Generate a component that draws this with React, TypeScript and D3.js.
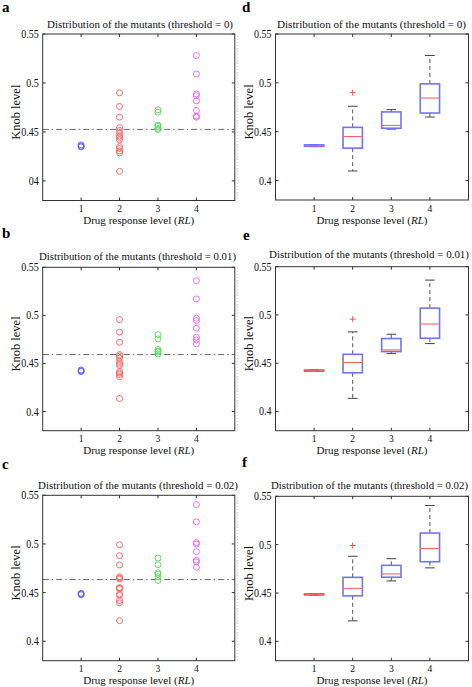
import React from "react";
import * as d3 from "d3";

// ---------- data ----------
const categories = [1, 2, 3, 4];
const xTickLabels = ["1", "2", "3", "4"];
const yTicks = [0.4, 0.45, 0.5, 0.55];
const yTickLabelsTop = ["04", "0.45", "0.5", "0.55"];
const yTickLabels = ["0.4", "0.45", "0.5", "0.55"];
const thresholds = ["0", "0.01", "0.02"];
const thresholdLevels = [0.4526, 0.4592, 0.4634];
const seriesColors = ["#5f5fff", "#ff5f5f", "#55dd55", "#f060f0"];

// threshold = 0
const t0RL1 = [0.4347, 0.4355, 0.4368];
const t0RL2 = [0.4899, 0.476, 0.4651, 0.4544, 0.4516, 0.4486, 0.4458, 0.4442, 0.442, 0.4351, 0.4331, 0.4306, 0.4286, 0.4097];
const t0RL3 = [0.4726, 0.4702, 0.457, 0.4558, 0.4535, 0.4526];
const t0RL4 = [0.528, 0.5091, 0.4888, 0.4871, 0.4817, 0.4719, 0.4662, 0.465];
// threshold = 0.01
const t1RL1 = [0.4415, 0.4422, 0.4432];
const t1RL2 = [0.4956, 0.4824, 0.472, 0.4592, 0.4578, 0.4555, 0.4519, 0.4495, 0.4478, 0.4415, 0.44, 0.4385, 0.4362, 0.4135];
const t1RL3 = [0.48, 0.4755, 0.4645, 0.463, 0.462, 0.4599];
const t1RL4 = [0.5361, 0.5171, 0.497, 0.4946, 0.4866, 0.4772, 0.4745, 0.4703];
// threshold = 0.02
const t2RL1 = [0.4478, 0.4485, 0.4493];
const t2RL2 = [0.4992, 0.488, 0.4784, 0.4662, 0.465, 0.464, 0.4552, 0.4545, 0.4539, 0.4484, 0.4471, 0.442, 0.4395, 0.4212];
const t2RL3 = [0.4855, 0.4786, 0.4704, 0.469, 0.4663, 0.4625];
const t2RL4 = [0.5405, 0.5227, 0.5013, 0.4999, 0.4921, 0.4832, 0.4815, 0.476];

const dataByThreshold = [
  [t0RL1, t0RL2, t0RL3, t0RL4],
  [t1RL1, t1RL2, t1RL3, t1RL4],
  [t2RL1, t2RL2, t2RL3, t2RL4],
];

// ---------- layout ----------
const layout = [
  { letter: "a", kind: "scatter", t: 0, x0: 42.7, x1: 234.8, y0: 34, y1: 200.5, titleX: 47, titleW: 186, titleY: 28, lx: 2, ly: 12 },
  { letter: "d", kind: "box", t: 0, x0: 275.5, x1: 468.5, y0: 34, y1: 200, titleX: 277, titleW: 189, titleY: 28, lx: 242, ly: 12 },
  { letter: "b", kind: "scatter", t: 1, x0: 42.7, x1: 234.8, y0: 267.3, y1: 430.7, titleX: 39, titleW: 197, titleY: 260, lx: 2, ly: 238 },
  { letter: "e", kind: "box", t: 1, x0: 275.5, x1: 468.5, y0: 266.7, y1: 430.7, titleX: 269, titleW: 200, titleY: 258, lx: 243, ly: 240 },
  { letter: "c", kind: "scatter", t: 2, x0: 42.7, x1: 234.8, y0: 495.3, y1: 660.7, titleX: 38, titleW: 200, titleY: 489, lx: 2, ly: 469 },
  { letter: "f", kind: "box", t: 2, x0: 275.5, x1: 468.5, y0: 496.3, y1: 660.7, titleX: 271, titleW: 197, titleY: 489, lx: 242, ly: 467 },
];

const FONT = "'Liberation Serif', 'Times New Roman', serif";
const AXIS = "#333";

function mq(sorted: number[], p: number) {
  const n = sorted.length;
  const pos = p * n + 0.5;
  if (pos <= 1) return sorted[0];
  if (pos >= n) return sorted[n - 1];
  const i = Math.floor(pos);
  const f = pos - i;
  return sorted[i - 1] + f * (sorted[i] - sorted[i - 1]);
}

function boxStats(values: number[]) {
  const s = values.slice().sort((a, b) => a - b);
  const q1 = mq(s, 0.25);
  const med = mq(s, 0.5);
  const q3 = mq(s, 0.75);
  const iqr = q3 - q1;
  const hiF = q3 + 1.5 * iqr;
  const loF = q1 - 1.5 * iqr;
  const inside = s.filter((v) => v >= loF && v <= hiF);
  return {
    q1, med, q3,
    lo: d3.min(inside) as number,
    hi: d3.max(inside) as number,
    out: s.filter((v) => v < loF || v > hiF),
  };
}

function Panel({ p }: { p: any }) {
  const x = d3.scaleLinear().domain([0, 5]).range([p.x0, p.x1]);
  const y = d3.scaleLinear().domain([0.38, 0.55]).range([p.y1, p.y0]);
  const series = dataByThreshold[p.t];
  const labels = p.letter === "a" ? yTickLabelsTop : yTickLabels;
  const tk = 3;
  const cx = (p.x0 + p.x1) / 2;
  const cy = (p.y0 + p.y1) / 2;
  const ylabX = p.kind === "scatter" ? 19.5 : 252.5;
  return (
    <g>
      <text x={p.lx} y={p.ly} fontFamily={FONT} fontWeight="bold" fontSize={15} fill="#000">{p.letter}</text>
      <text x={p.titleX} y={p.titleY} fontFamily={FONT} fontSize={11} textLength={p.titleW} lengthAdjust="spacingAndGlyphs" fill="#111">
        {`Distribution of the mutants (threshold = ${thresholds[p.t]})`}
      </text>
      {p.kind === "scatter" && (
        <g>
          <line x1={p.x0} x2={p.x1} y1={y(thresholdLevels[p.t])} y2={y(thresholdLevels[p.t])}
            stroke="#6a6a6a" strokeWidth={1} strokeDasharray="6,3,1.5,3" />
          {series.map((vals, i) =>
            vals.map((v, j) => (
              <circle key={`${i}-${j}`} cx={x(categories[i])} cy={y(v)} r={3} fill="none"
                stroke={seriesColors[i]} strokeWidth={0.9} />
            ))
          )}
        </g>
      )}
      {p.kind === "box" && (
        <g>
          {series.map((vals, i) => {
            const b = boxStats(vals);
            const c = x(categories[i]);
            const hw = x(0.25) - x(0);
            const cw = x(0.125) - x(0);
            return (
              <g key={i}>
                <line x1={c} x2={c} y1={y(b.q3)} y2={y(b.hi)} stroke="#555" strokeWidth={1} strokeDasharray="4,3" />
                <line x1={c} x2={c} y1={y(b.q1)} y2={y(b.lo)} stroke="#555" strokeWidth={1} strokeDasharray="4,3" />
                <line x1={c - cw} x2={c + cw} y1={y(b.hi)} y2={y(b.hi)} stroke="#444" strokeWidth={1} />
                <line x1={c - cw} x2={c + cw} y1={y(b.lo)} y2={y(b.lo)} stroke="#444" strokeWidth={1} />
                <rect x={c - hw} y={y(b.q3)} width={2 * hw} height={Math.max(0.5, y(b.q1) - y(b.q3))}
                  fill="none" stroke="#7373ff" strokeWidth={1.6} />
                <line x1={c - hw} x2={c + hw} y1={y(b.med)} y2={y(b.med)} stroke="#ff6464" strokeWidth={1.1} />
                {b.out.map((o, k) => (
                  <g key={k} stroke="#ff5050" strokeWidth={1}>
                    <line x1={c - 3} x2={c + 3} y1={y(o)} y2={y(o)} />
                    <line x1={c} x2={c} y1={y(o) - 3} y2={y(o) + 3} />
                  </g>
                ))}
              </g>
            );
          })}
        </g>
      )}
      <rect x={p.x0} y={p.y0} width={p.x1 - p.x0} height={p.y1 - p.y0} fill="none" stroke={AXIS} strokeWidth={1} />
      {yTicks.map((t, i) => (
        <g key={`y${i}`}>
          <line x1={p.x0} x2={p.x0 + tk} y1={y(t)} y2={y(t)} stroke={AXIS} />
          <line x1={p.x1} x2={p.x1 - tk} y1={y(t)} y2={y(t)} stroke={AXIS} />
          <text transform={`translate(${p.x0 - 4},${y(t)}) scale(0.87,1)`} dy="0.35em" textAnchor="end"
            fontFamily={FONT} fontSize={11.5} fill="#111">{labels[i]}</text>
        </g>
      ))}
      {categories.map((c, i) => (
        <g key={`x${i}`}>
          <line x1={x(c)} x2={x(c)} y1={p.y1} y2={p.y1 - tk} stroke={AXIS} />
          <line x1={x(c)} x2={x(c)} y1={p.y0} y2={p.y0 + tk} stroke={AXIS} />
          <text transform={`translate(${x(c)},${p.y1 + 11.5}) scale(0.87,1)`} textAnchor="middle"
            fontFamily={FONT} fontSize={11} fill="#111">{xTickLabels[i]}</text>
        </g>
      ))}
      <text x={cx} y={p.y1 + 23.5} textAnchor="middle" fontFamily={FONT} fontSize={11.3}
        textLength={111} lengthAdjust="spacingAndGlyphs" fill="#111">
        Drug response level (<tspan fontStyle="italic">RL</tspan>)
      </text>
      <text transform={`translate(${ylabX},${cy - 5}) rotate(-90)`} textAnchor="middle"
        fontFamily={FONT} fontSize={12.5} fill="#111">Knob level</text>
    </g>
  );
}

export default function App() {
  return (
    <svg width={472} height={687} style={{ position: "absolute", left: 0, top: 0, background: "#fff" }}>
      <rect width={472} height={687} fill="#fff" />
      {[[36, 200], [268, 431], [497, 660]].map((r, i) => (
        <line key={i} x1={237.5} x2={237.5} y1={r[0]} y2={r[1]} stroke="#c8c8c8" strokeWidth={0.8} strokeDasharray="1,2" />
      ))}
      {layout.map((p) => (
        <Panel key={p.letter} p={p} />
      ))}
    </svg>
  );
}
